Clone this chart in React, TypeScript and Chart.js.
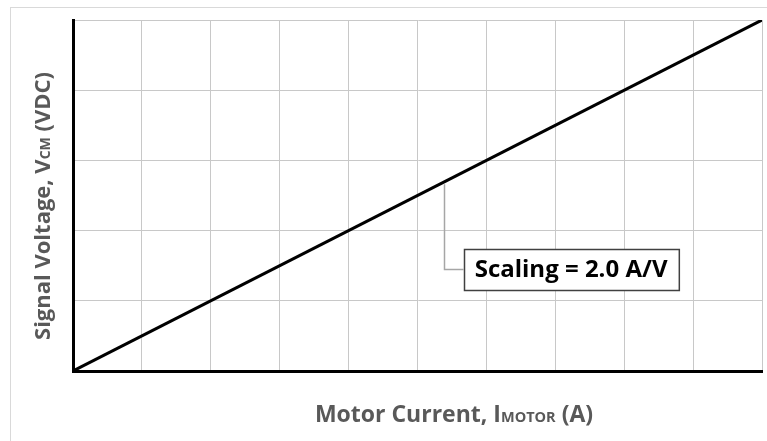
import React, { useEffect, useRef } from "react";
import { Chart, registerables } from "chart.js";

Chart.register(...registerables);

const currentA: number[] = [0, 10];
const voltageV: number[] = [0, 5];
const xTitleMain = "Motor Current, I";
const xTitleSub = "MOTOR";
const xTitleEnd = " (A)";
const yTitleMain = "Signal Voltage, V";
const yTitleSub = "CM";
const yTitleEnd = " (VDC)";
const annotationText = "Scaling = 2.0 A/V";
const annotationAnchor = { x: 5.38, y: 2.69 };
const annotationElbowY = 1.45;
const annotationBoxX = 5.67;

const FONT = "'Open Sans', sans-serif";

function drawTitle(ctx: CanvasRenderingContext2D, main: string, sub: string, end: string, size: number, subSize: number) {
  ctx.font = `bold ${size}px ${FONT}`;
  const w1 = ctx.measureText(main).width;
  const w3 = ctx.measureText(end).width;
  ctx.font = `bold ${subSize}px ${FONT}`;
  const w2 = ctx.measureText(sub).width;
  const total = w1 + w2 + w3;
  let x = -total / 2;
  ctx.textBaseline = "alphabetic";
  ctx.textAlign = "left";
  ctx.font = `bold ${size}px ${FONT}`;
  ctx.fillText(main, x, 0);
  x += w1;
  ctx.font = `bold ${subSize}px ${FONT}`;
  ctx.fillText(sub, x, 0);
  x += w2;
  ctx.font = `bold ${size}px ${FONT}`;
  ctx.fillText(end, x, 0);
}

const decorPlugin = {
  id: "decor",
  afterDraw(chart: any) {
    const ctx: CanvasRenderingContext2D = chart.ctx;
    const xs = chart.scales.x;
    const ys = chart.scales.y;
    ctx.save();
    ctx.fillStyle = "#595959";
    // x title
    ctx.save();
    ctx.translate(454, 422);
    drawTitle(ctx, xTitleMain, xTitleSub, xTitleEnd, 23, 14.5);
    ctx.restore();
    // y title
    ctx.save();
    ctx.translate(50, 206);
    ctx.rotate(-Math.PI / 2);
    drawTitle(ctx, yTitleMain, yTitleSub, yTitleEnd, 22, 14);
    ctx.restore();

    // annotation leader
    const ax = xs.getPixelForValue(annotationAnchor.x);
    const ay = ys.getPixelForValue(annotationAnchor.y);
    const ey = ys.getPixelForValue(annotationElbowY);
    const bx = xs.getPixelForValue(annotationBoxX);
    ctx.strokeStyle = "#a6a6a6";
    ctx.lineWidth = 1.5;
    ctx.beginPath();
    ctx.moveTo(Math.round(ax) + 0.5, ay + 2);
    ctx.lineTo(Math.round(ax) + 0.5, Math.round(ey) + 0.5);
    ctx.lineTo(bx, Math.round(ey) + 0.5);
    ctx.stroke();

    // box
    ctx.font = `bold 24px ${FONT}`;
    const tw = ctx.measureText(annotationText).width;
    const bw = tw + 22;
    const bh = 41;
    const by = Math.round(ey) - 20;
    ctx.fillStyle = "#ffffff";
    ctx.fillRect(bx, by, bw, bh);
    ctx.strokeStyle = "#404040";
    ctx.lineWidth = 1.5;
    ctx.strokeRect(Math.round(bx) + 0.5, by + 0.5, bw, bh);
    ctx.fillStyle = "#000000";
    ctx.textAlign = "left";
    ctx.textBaseline = "middle";
    ctx.fillText(annotationText, bx + 11, by + bh / 2 + 1);
    ctx.restore();
  },
};

export default function App() {
  const ref = useRef<HTMLCanvasElement | null>(null);
  useEffect(() => {
    document.body.style.margin = "0";
    const canvas = ref.current!;
    const chart = new Chart(canvas, {
      type: "scatter",
      data: {
        datasets: [
          {
            data: currentA.map((x, i) => ({ x, y: voltageV[i] })),
            showLine: true,
            borderColor: "#000000",
            borderWidth: 3,
            pointRadius: 0,
            fill: false,
          },
        ],
      },
      options: {
        animation: false,
        responsive: false,
        maintainAspectRatio: false,
        layout: { padding: { left: 73, top: 20, right: 5, bottom: 70 } },
        plugins: { legend: { display: false }, tooltip: { enabled: false }, title: { display: false } },
        scales: {
          x: {
            type: "linear",
            min: 0,
            max: 10,
            ticks: { display: false, stepSize: 1 },
            grid: { color: "#c8c8c8", lineWidth: 1, drawTicks: false },
            border: { color: "#000000", width: 3 },
          },
          y: {
            type: "linear",
            min: 0,
            max: 5,
            ticks: { display: false, stepSize: 1 },
            grid: { color: "#c8c8c8", lineWidth: 1, drawTicks: false },
            border: { color: "#000000", width: 3 },
          },
        },
      },
      plugins: [decorPlugin],
    });
    return () => chart.destroy();
  }, []);
  return (
    <div style={{ position: "fixed", left: 0, top: 0, width: 767, height: 441, background: "#fff", overflow: "hidden" }}>
      <div
        style={{
          position: "absolute",
          left: 10,
          top: 7,
          width: 800,
          height: 500,
          borderTop: "1px solid #d9d9d9",
          borderLeft: "1px solid #d9d9d9",
        }}
      />
      <canvas ref={ref} width={767} height={441} style={{ position: "absolute", left: 0, top: 0 }} />
    </div>
  );
}
